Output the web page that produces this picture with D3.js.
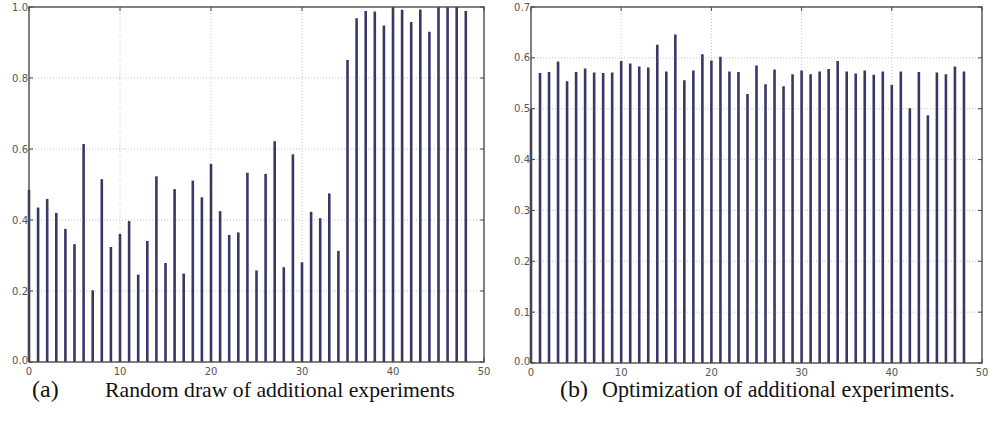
<!DOCTYPE html>
<html lang="en">
  <head>
    <meta charset="UTF-8" />
    <title>Additional experiments</title>
    <style>
      body { margin: 0; background: #fff; }
      svg { display: block; }
    </style>
  </head>
  <body>
    <div id="chart"></div>
    <script src="https://d3js.org/d3.v7.min.js"></script>
    <script>
      const randomDraw = [
        0.485, 0.435, 0.459, 0.420, 0.375, 0.332, 0.614, 0.202, 0.515, 0.324,
        0.361, 0.397, 0.246, 0.341, 0.523, 0.279, 0.487, 0.249, 0.511, 0.464,
        0.558, 0.425, 0.358, 0.365, 0.533, 0.258, 0.530, 0.622, 0.267, 0.585,
        0.281, 0.423, 0.405, 0.475, 0.313, 0.851, 0.968, 0.989, 0.987, 0.948,
        1.000, 0.992, 0.958, 0.993, 0.930, 1.000, 1.000, 1.000, 0.989
      ];
      const optimized = [
        0.500, 0.570, 0.572, 0.593, 0.554, 0.572, 0.579, 0.571, 0.570, 0.571,
        0.594, 0.589, 0.583, 0.581, 0.626, 0.573, 0.646, 0.556, 0.575, 0.607,
        0.595, 0.602, 0.573, 0.572, 0.529, 0.585, 0.548, 0.577, 0.544, 0.568,
        0.575, 0.568, 0.573, 0.578, 0.594, 0.573, 0.569, 0.575, 0.567, 0.573,
        0.547, 0.573, 0.501, 0.572, 0.487, 0.571, 0.568, 0.583, 0.573
      ];
      const xTicks = [0, 10, 20, 30, 40, 50];
      const yTicksA = [0.0, 0.2, 0.4, 0.6, 0.8, 1.0];
      const yTicksB = [0.0, 0.1, 0.2, 0.3, 0.4, 0.5, 0.6, 0.7];
      const captionA = ["(a)", "Random draw of additional experiments"];
      const captionB = ["(b)", "Optimization of additional experiments."];

      const W = 1002, H = 428;
      const svg = d3.select("#chart").append("svg")
        .attr("width", W).attr("height", H);

      function panel(opts) {
        const { left, right, top, bottom, values, yMax, yTicks, caption } = opts;
        const x = d3.scaleLinear().domain([0, 50]).range([left, right]);
        const y = d3.scaleLinear().domain([0, yMax]).range([bottom, top]);
        const g = svg.append("g");

        // dotted grid
        g.selectAll("line.gx").data(xTicks.slice(1, -1)).join("line")
          .attr("x1", d => x(d)).attr("x2", d => x(d))
          .attr("y1", top).attr("y2", bottom)
          .attr("stroke", "#c4c4c4").attr("stroke-dasharray", "1,2");
        g.selectAll("line.gy").data(yTicks.slice(1, -1)).join("line")
          .attr("x1", left).attr("x2", right)
          .attr("y1", d => y(d)).attr("y2", d => y(d))
          .attr("stroke", "#c4c4c4").attr("stroke-dasharray", "1,2");

        // bars as thin stems
        g.selectAll("line.bar").data(values).join("line")
          .attr("x1", (d, i) => x(i)).attr("x2", (d, i) => x(i))
          .attr("y1", y(0)).attr("y2", d => y(d))
          .attr("stroke", "#383866").attr("stroke-width", 2.6);

        // inward ticks on all four sides
        const tk = 4;
        g.selectAll("line.tx").data(xTicks).join("line")
          .attr("x1", d => x(d)).attr("x2", d => x(d))
          .attr("y1", bottom).attr("y2", bottom - tk)
          .attr("stroke", "#444");
        g.selectAll("line.txt").data(xTicks).join("line")
          .attr("x1", d => x(d)).attr("x2", d => x(d))
          .attr("y1", top).attr("y2", top + tk)
          .attr("stroke", "#444");
        g.selectAll("line.ty").data(yTicks).join("line")
          .attr("x1", left).attr("x2", left + tk)
          .attr("y1", d => y(d)).attr("y2", d => y(d))
          .attr("stroke", "#444");
        g.selectAll("line.tyr").data(yTicks).join("line")
          .attr("x1", right).attr("x2", right - tk)
          .attr("y1", d => y(d)).attr("y2", d => y(d))
          .attr("stroke", "#444");

        // frame
        g.append("rect")
          .attr("x", left).attr("y", top)
          .attr("width", right - left).attr("height", bottom - top)
          .attr("fill", "none").attr("stroke", "#4a4a4a").attr("stroke-width", 1.4);

        // tick labels
        g.selectAll("text.ly").data(yTicks).join("text")
          .attr("x", left - 1).attr("y", d => y(d) - (d === 0 ? 2 : 0)).attr("dy", "0.35em")
          .attr("text-anchor", "end")
          .attr("font-family", "DejaVu Sans").attr("font-size", 10).attr("fill", "#555")
          .text(d => d.toFixed(1));
        g.selectAll("text.lx").data(xTicks).join("text")
          .attr("x", d => x(d)).attr("y", bottom + 9).attr("dy", "0.35em")
          .attr("text-anchor", "middle")
          .attr("font-family", "DejaVu Sans").attr("font-size", 10).attr("fill", "#555")
          .text(d => d);

        // caption: label, then text scaled to the width seen in the picture
        g.append("text")
          .attr("x", opts.capX).attr("y", 397)
          .attr("font-family", "Liberation Serif").attr("font-size", 24).attr("fill", "#111")
          .text(caption[0]);
        const t = g.append("text")
          .attr("x", opts.textX).attr("y", 397)
          .attr("font-family", "Liberation Serif").attr("font-size", 18).attr("fill", "#111")
          .text(caption[1]);
        const w = t.node().getComputedTextLength();
        t.attr("font-size", 18 * opts.capW / w);
      }

      panel({ left: 29, right: 484, top: 7, bottom: 362, values: randomDraw,
              yMax: 1.0, yTicks: yTicksA, caption: captionA,
              capX: 32, textX: 105, capW: 350 });
      panel({ left: 531, right: 982, top: 7, bottom: 363, values: optimized,
              yMax: 0.7, yTicks: yTicksB, caption: captionB,
              capX: 560, textX: 602, capW: 353 });
    </script>
  </body>
</html>
